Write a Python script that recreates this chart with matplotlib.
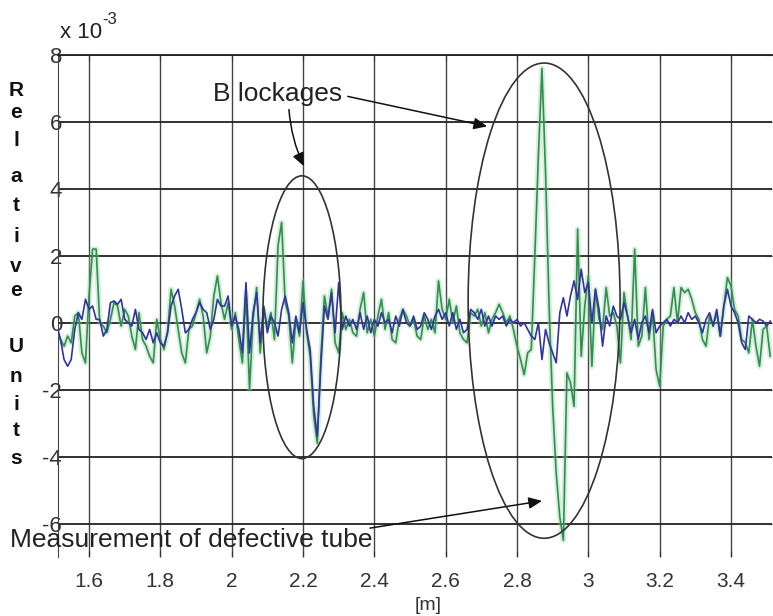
import matplotlib
matplotlib.use("Agg")
import matplotlib.pyplot as plt
from matplotlib.patches import Ellipse
import numpy as np

plt.rcParams['font.family'] = ['Liberation Sans', 'DejaVu Sans']

# sample positions [m], one every 1 cm
pos = np.arange(151, 352) / 100.0

# defective tube (green), relative units x 1e-3
green = [
    -0.3, -0.5, -0.7, -0.4, -0.6, 0.2, 0.3, -0.9, -1.2, 0.8,
    2.2, 2.2, 0.0, -0.1, -0.3, 0.1, 0.6, 0.5, -0.1, 0.4,
    0.2, -0.4, -0.8, 0.3, -0.5, -0.7, -1.0, -1.2, 0.1, -0.5,
    -0.8, -0.3, 1.0, 0.5, -0.2, -0.9, -1.2, -0.2, -0.1, 0.3,
    0.7, 0.2, -0.9, -0.4, 0.8, 1.4, 0.6, 0.1, 0.6, -0.2,
    # 2.01 - 2.52
    0.3, -0.5, -1.2, 0.9, -2.0, 0.1, 1.05, -0.9, 0.4, -0.1,
    0.3, -0.5, 2.3, 3.0, 0.6, 0.2, -1.2, 0.1, -0.4, 1.25,
    -0.3, -1.0, -2.8, -3.6, -1.0, 0.8, 0.2, 1.0, -0.6, -0.9,
    0.3, -0.2, 0.1, -0.3, -0.4, 0.4, 0.9, -0.3, 0.1, -0.4,
    0.2, 0.7, -0.2, 0.3, -0.5, -0.6, 0.1, 0.4, 0.2, -0.1,
    0.1, -0.4,
    # 2.53 - 2.84
    -0.5, 0.2, -0.2, 0.1, -0.3, 1.25, 0.4, 0.1, 0.7, 0.0,
    0.5, -0.3, -0.5, -0.6, 0.3, 0.2, 0.4, -0.1, 0.3, -0.3,
    0.1, 0.3, 0.55, 0.3, 0.0, 0.2, -0.2, -0.7, -1.1, -1.55,
    -0.9, -0.8,
    # 2.85 - 3.02
    2.0, 5.0, 7.6, 4.5, 0.5, -2.5, -4.5, -5.8, -6.5, -1.5,
    -1.8, -2.5, 2.8, -1.0, 0.5, 1.4, -1.3, 1.0,
    # 3.03 - 3.51
    0.1, -0.2, 1.05, 0.2, 0.3, -0.1, -1.2, 0.9, 0.2, -0.5,
    2.2, -0.7, -0.4, 1.05, -0.5, 0.3, -1.4, -1.9, -0.1, 0.1,
    0.2, 1.05, 0.0, 1.05, 0.9, 1.0, 0.7, 0.3, 0.1, -0.5,
    -0.7, 0.2, -0.1, 0.3, -0.4, 0.5, 1.35, 1.1, 0.4, 0.2,
    -0.5, -0.6, -0.9, 0.1, -0.7, -1.3, -0.2, -0.1, -1.0,
]

# reference tube (blue)
blue = [
    -0.1, -0.5, -1.1, -1.3, -1.1, -0.2, 0.3, 0.1, 0.7, 0.4,
    0.5, 0.1, 0.1, -0.4, -0.2, 0.6, 0.65, 0.55, 0.7, 0.1,
    0.0, -0.1, 0.4, -0.2, -0.3, -0.5, -0.2, -0.6, -0.3, -0.6,
    -0.7, -0.3, 0.5, 0.8, 1.0, 0.4, -0.3, -0.2, 0.1, 0.3,
    0.6, 0.4, 0.3, -0.2, 0.1, 0.7, 0.5, 0.5, 0.8, -0.1,
    # 2.01 - 2.52
    0.2, -0.2, -0.9, 1.2, -0.9, 0.3, 0.9, -0.6, 0.5, -0.3,
    0.2, 0.0, -0.4, 0.4, 0.8, 0.3, -0.6, 0.2, -0.3, 0.6,
    -0.2, -0.8, -2.5, -3.4, -1.3, 0.5, 0.1, 0.9, -0.3, 1.2,
    -0.2, 0.2, -0.1, 0.1, -0.2, 0.3, -0.2, 0.2, -0.3, 0.1,
    -0.1, 0.3, 0.0, 0.1, -0.3, 0.2, -0.1, 0.4, 0.0, -0.1,
    0.2, -0.2,
    # 2.53 - 2.84
    -0.1, 0.3, 0.1, -0.2, 0.2, 0.4, 0.1, 0.3, -0.1, 0.3,
    -0.2, 0.1, -0.3, -0.2, 0.4, 0.3, 0.1, 0.4, -0.1, 0.2,
    -0.1, 0.2, 0.1, 0.2, -0.1, 0.1, 0.0, 0.1, -0.1, 0.0,
    -0.2, -0.4,
    # 2.85 - 3.02
    -0.5, 0.0, -1.1, -0.2, -0.6, -0.9, -1.2, 0.3, 0.75, 0.2,
    0.8, 1.25, 0.7, 1.6, 0.9, 1.2, 0.0, 1.0,
    # 3.03 - 3.51
    0.4, -0.7, 0.2, -0.1, 0.5, 0.2, 0.1, 0.6, 0.2, -0.3,
    0.1, -0.5, 0.0, 0.2, -0.3, 0.4, -0.3, -0.1, 0.0, 0.1,
    -0.1, 0.1, 0.0, 0.2, 0.0, 0.3, 0.1, 0.2, 0.0, -0.3,
    0.1, 0.3, -0.1, 0.4, -0.4, 0.5, 1.0, 0.5, 0.3, 0.0,
    -0.6, -0.8, 0.2, 0.1, 0.0, 0.1, 0.05, -0.1, 0.05,
]

xticks = [1.6, 1.8, 2.0, 2.2, 2.4, 2.6, 2.8, 3.0, 3.2, 3.4]
xticklabels = ['1.6', '1.8', '2', '2.2', '2.4', '2.6', '2.8', '3', '3.2', '3.4']
yticks = [-6, -4, -2, 0, 2, 4, 6, 8]

W, H = 773, 616
fig = plt.figure(figsize=(W / 100, H / 100), dpi=100)
ax = fig.add_axes([58 / W, 1 - 557 / H, 714 / W, 502 / H])

# soft halo like the scanned original, then the traces
ax.plot(pos, green, color='#8fd19e', lw=4, alpha=0.35, zorder=2)
ax.plot(pos, green, color='#2f8f4f', lw=1.2, zorder=3)
ax.plot(pos, blue, color='#3333a0', lw=1.2, zorder=4)

ax.set_xlim(1.513, 3.515)
ax.set_ylim(-7, 8)
ax.set_xticks(xticks)
ax.set_xticklabels(xticklabels)
ax.set_yticks(yticks)
ax.set_yticklabels([str(v) for v in yticks])

ax.grid(True, axis='x', color='#444444', lw=1.0, zorder=1)
ax.grid(True, axis='y', color='#222222', lw=1.3, zorder=1)
for s in ['bottom', 'right']:
    ax.spines[s].set_visible(False)
ax.spines['left'].set_color('#444444')
ax.spines['top'].set_color('#222222')
ax.spines['top'].set_linewidth(1.3)

ax.tick_params(axis='x', direction='in', length=4, pad=11, labelsize=15,
               colors='#333333', top=True)
ax.tick_params(axis='y', direction='in', length=4, pad=-3, labelsize=16,
               colors='#333333', right=True)

# circled regions
ax.add_patch(Ellipse((2.197, 0.165), 0.219, 8.45, fill=False,
                     ec='#333333', lw=1.2, zorder=5))
ax.add_patch(Ellipse((2.876, 0.66), 0.426, 14.2, fill=False,
                     ec='#333333', lw=1.2, zorder=5))

ax.text(2.128, 6.84, 'B lockages', fontsize=19, color='#222222',
        ha='center', va='center', zorder=6)
arrow = dict(arrowstyle='-|>,head_length=0.8,head_width=0.35',
             color='#111111', lw=1.1)
ax.annotate('', xy=(2.206, 4.6), xytext=(2.16, 6.45),
            arrowprops=dict(arrow, connectionstyle='arc3,rad=0.1'))
ax.annotate('', xy=(2.724, 5.85), xytext=(2.318, 6.78), arrowprops=arrow)

ax.text(1.379, -6.5, 'Measurement of defective tube', fontsize=19,
        color='#222222', ha='left', va='center', clip_on=False, zorder=6)
ax.annotate('', xy=(2.878, -5.31), xytext=(2.38, -6.15),
            arrowprops=arrow, annotation_clip=False)

fig.text(428 / W, 1 - 605 / H, '[m]', fontsize=14, color='#333333',
         ha='center', va='center')
fig.text(60 / W, 1 - 33 / H, 'x 10', fontsize=16, color='#222222',
         ha='left', va='center')
fig.text(102 / W, 1 - 19 / H, '-3', fontsize=12, color='#222222',
         ha='left', va='center')

# stacked y label
label = 'RelativeUnits'
ys = [90, 112, 141, 176, 205, 237, 266, 290, 347, 376, 405, 431, 458]
for ch, yy in zip(label, ys):
    fig.text(16 / W, 1 - yy / H, ch, fontsize=15, fontweight='bold',
             color='#111111', ha='center', va='center')

fig.savefig('out.png', dpi=100)
